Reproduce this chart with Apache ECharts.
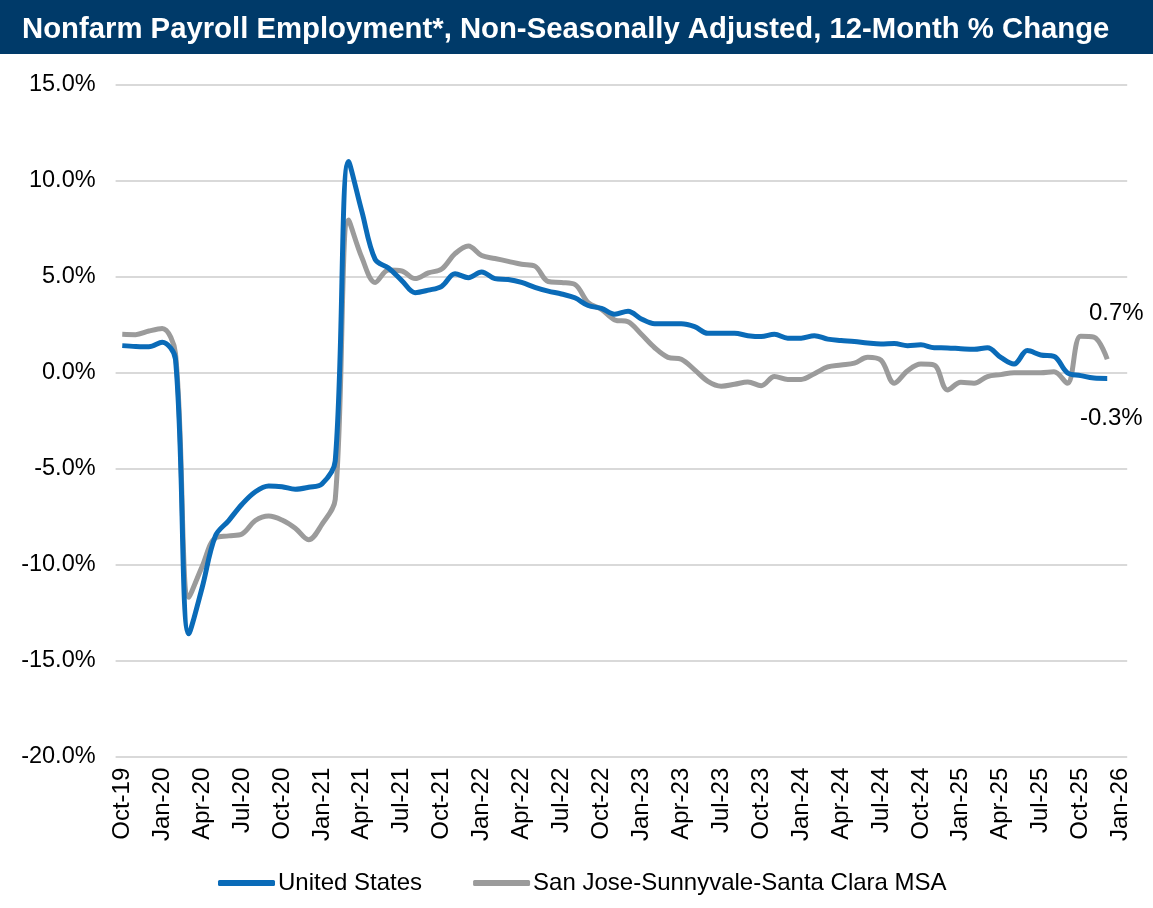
<!DOCTYPE html>
<html>
<head>
<meta charset="utf-8">
<script src="https://cdn.jsdelivr.net/npm/echarts@6/dist/echarts.min.js"></script>
<style>
    html, body { margin: 0; padding: 0; background: #fff; }
    #main { width: 1153px; height: 908px; }
</style>
</head>
<body>
<div id="main"></div>
<script>
const chart = echarts.init(document.getElementById("main"));

// month labels, Oct-19 .. Jan-26
const months = [
    "Oct-19", "Nov-19", "Dec-19",
    "Jan-20", "Feb-20", "Mar-20", "Apr-20", "May-20", "Jun-20", "Jul-20", "Aug-20", "Sep-20", "Oct-20", "Nov-20", "Dec-20",
    "Jan-21", "Feb-21", "Mar-21", "Apr-21", "May-21", "Jun-21", "Jul-21", "Aug-21", "Sep-21", "Oct-21", "Nov-21", "Dec-21",
    "Jan-22", "Feb-22", "Mar-22", "Apr-22", "May-22", "Jun-22", "Jul-22", "Aug-22", "Sep-22", "Oct-22", "Nov-22", "Dec-22",
    "Jan-23", "Feb-23", "Mar-23", "Apr-23", "May-23", "Jun-23", "Jul-23", "Aug-23", "Sep-23", "Oct-23", "Nov-23", "Dec-23",
    "Jan-24", "Feb-24", "Mar-24", "Apr-24", "May-24", "Jun-24", "Jul-24", "Aug-24", "Sep-24", "Oct-24", "Nov-24", "Dec-24",
    "Jan-25", "Feb-25", "Mar-25", "Apr-25", "May-25", "Jun-25", "Jul-25", "Aug-25", "Sep-25", "Oct-25", "Nov-25", "Dec-25",
    "Jan-26"
];

// 12-month % change
const unitedStates = [
    1.41, 1.37, 1.35, 1.58, 0.7, -13.6, -11.2, -8.5, -7.7, -6.85,
    -6.2, -5.9, -5.94, -6.07, -5.97, -5.8, -4.6, 11.0, 8.4, 5.9,
    5.45, 4.8, 4.17, 4.3, 4.5, 5.15, 4.95, 5.25, 4.9, 4.85,
    4.7, 4.45, 4.25, 4.1, 3.9, 3.5, 3.35, 3.05, 3.2, 2.8,
    2.55, 2.55, 2.55, 2.4, 2.05, 2.05, 2.05, 1.93, 1.88, 2.0,
    1.8, 1.8, 1.93, 1.75, 1.68, 1.63, 1.55, 1.5, 1.52, 1.41,
    1.45, 1.3, 1.29, 1.25, 1.22, 1.3, 0.8, 0.45, 1.15, 0.92,
    0.85, 0.0, -0.15, -0.28, -0.3
];

const sanJose = [
    2.0, 1.98, 2.17, 2.3, 1.0, -11.7, -10.1, -8.6, -8.5, -8.4,
    -7.7, -7.46, -7.67, -8.1, -8.7, -7.9, -6.6, 7.95, 6.0, 4.7,
    5.35, 5.3, 4.9, 5.2, 5.4, 6.2, 6.6, 6.1, 5.95, 5.8,
    5.65, 5.55, 4.75, 4.7, 4.6, 3.65, 3.3, 2.75, 2.65, 2.0,
    1.3, 0.8, 0.7, 0.15, -0.45, -0.7, -0.6, -0.48, -0.68, -0.2,
    -0.35, -0.35, -0.05, 0.3, 0.4, 0.5, 0.8, 0.65, -0.55, 0.1,
    0.45, 0.4, -0.9, -0.5, -0.55, -0.2, -0.1, 0.0, 0.0, 0.0,
    0.05, -0.55, 1.9, 1.85, 0.7
];

const yTicks = { min: -20, max: 15, step: 5 };

const FONT = "Liberation Sans, Arial, sans-serif";

// only the last point gets a label
function withEndLabel(values, labelOpt) {
    return values.map((v, i) => {
        if (i !== values.length - 1) return v;
        return {
            value: v,
            label: Object.assign({
                show: true,
                formatter: (p) => p.value.toFixed(1) + "%",
                fontSize: 24,
                fontFamily: FONT,
                color: "#000"
            }, labelOpt)
        };
    });
}

let option = {
    animation: false,
    graphic: [
        {
            type: "rect",
            shape: { x: 0, y: 0, width: 1153, height: 54 },
            style: { fill: "#003a69" }
        }
    ],
    title: {
        text: "Nonfarm Payroll Employment*, Non-Seasonally Adjusted, 12-Month % Change",
        left: 22,
        top: 15,
        padding: 0,
        textStyle: {
            color: "#fff",
            fontSize: 29.3,
            fontWeight: "bold",
            fontFamily: FONT
        }
    },
    legend: {
        bottom: 8,
        left: 213,
        icon: "roundRect",
        itemWidth: 57,
        itemHeight: 6,
        itemGap: 51,
        textStyle: { fontSize: 24, fontFamily: FONT, color: "#000", padding: [0, 0, 0, -2] },
        data: ["United States", "San Jose-Sunnyvale-Santa Clara MSA"]
    },
    grid: {
        left: 115.6,
        top: 84.7,
        width: 1011.6,
        height: 672,
        outerBoundsMode: "none"
    },
    xAxis: {
        type: "category",
        data: months,
        boundaryGap: true,
        axisLine: { show: false },
        axisTick: { show: false },
        axisLabel: {
            interval: 2,
            rotate: 90,
            margin: 11,
            fontSize: 24,
            fontFamily: FONT,
            color: "#000"
        }
    },
    yAxis: {
        type: "value",
        min: yTicks.min,
        max: yTicks.max,
        interval: yTicks.step,
        axisLine: { show: false },
        axisTick: { show: false },
        axisLabel: {
            margin: 20,
            fontSize: 23.5,
            fontFamily: FONT,
            color: "#000",
            padding: [4, 0, 0, 0],
            formatter: (v) => v.toFixed(1) + "%"
        },
        splitLine: { lineStyle: { color: "#d9d9d9", width: 2 } }
    },
    series: [
        {
            name: "United States",
            type: "line",
            smooth: 0.35,
            symbol: "circle",
            symbolSize: 0,
            showAllSymbol: true,
            z: 3,
            itemStyle: { color: "#0a6bb8" },
            lineStyle: { color: "#0a6bb8", width: 5 },
            data: withEndLabel(unitedStates, { position: "bottom", distance: 5, offset: [4, 23] })
        },
        {
            name: "San Jose-Sunnyvale-Santa Clara MSA",
            type: "line",
            smooth: 0.35,
            symbol: "circle",
            symbolSize: 0,
            showAllSymbol: true,
            z: 2,
            itemStyle: { color: "#9b9b9b" },
            lineStyle: { color: "#9b9b9b", width: 5 },
            data: withEndLabel(sanJose, { position: "top", distance: 5, offset: [9, -29] })
        }
    ]
};

chart.setOption(option);
</script>
</body>
</html>
